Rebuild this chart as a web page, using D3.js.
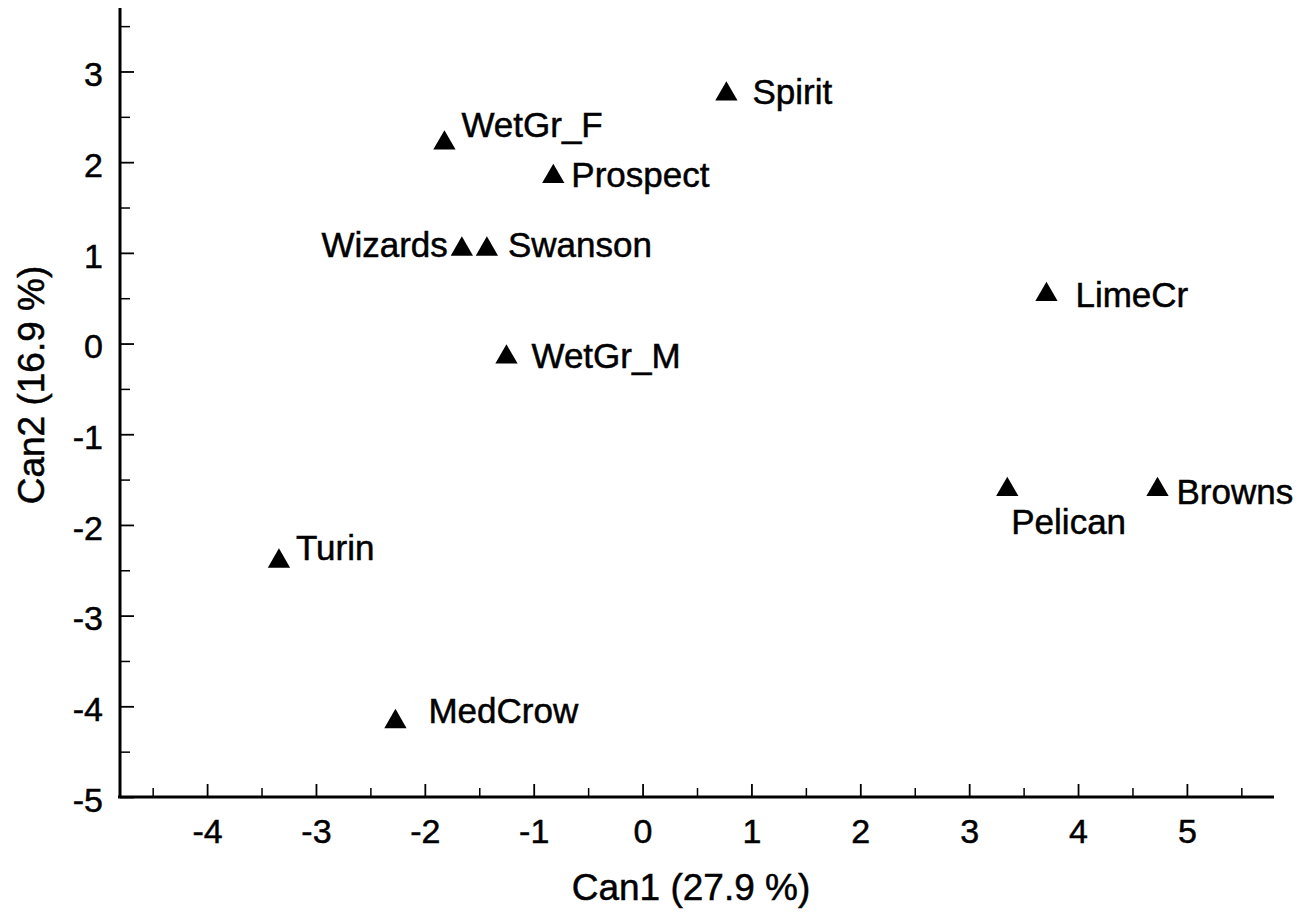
<!DOCTYPE html>
<html>
<head>
<meta charset="utf-8">
<script src="https://cdn.jsdelivr.net/npm/d3@7"></script>
<style>
  body { margin: 0; background: #fff; }
  svg { display: block; font-family: "Liberation Sans", Arial, sans-serif; }
  svg text { stroke: #000; stroke-width: 0.5px; }
</style>
</head>
<body>
<svg id="chart" width="1308" height="918"></svg>
<script>
// sites and their canonical scores
var sites = ["Spirit", "WetGr_F", "Prospect", "Wizards", "Swanson", "LimeCr",
             "WetGr_M", "Pelican", "Browns", "Turin", "MedCrow"];
var can1 = [0.77, -1.82, -0.82, -1.66, -1.43, 3.71, -1.25, 3.35, 4.73, -3.34, -2.27];
var can2 = [2.75, 2.21, 1.84, 1.04, 1.04, 0.54, -0.15, -1.61, -1.61, -2.40, -4.17];

var xTicks = [-4, -3, -2, -1, 0, 1, 2, 3, 4, 5];
var yTicks = [-5, -4, -3, -2, -1, 0, 1, 2, 3];

// where each label sits next to its triangle (dx, dy, anchor)
var labelPlace = [
  [26, 9.5, "start"], [17, -6.5, "start"], [18, 10.5, "start"], [-14, 7.5, "end"],
  [21, 7.5, "start"], [29, 12.5, "start"], [25, 10.5, "start"], [4, 44.5, "start"],
  [19, 14.5, "start"], [17, -1.5, "start"], [33, 1.5, "start"]
];

var svg = d3.select("#chart");

var x = d3.scaleLinear().domain([-4.8, 5.8]).range([120, 1274]);
var y = d3.scaleLinear().domain([-5, 3.7]).range([797, 8]);

var halves = function (a, b) {
  var out = [];
  for (var v = a; v <= b; v += 1) out.push(v + 0.5);
  return out;
};
var plain = function (d) { return String(d); }; // hyphen minus, like the original

// minor ticks
svg.append("g")
  .attr("transform", "translate(0,797)")
  .call(d3.axisBottom(x).tickValues(halves(-5, 5)).tickSize(-9).tickFormat(""))
  .call(function (g) { g.select(".domain").remove(); })
  .selectAll("line").attr("stroke-width", 1.5);

svg.append("g")
  .attr("transform", "translate(120,0)")
  .call(d3.axisLeft(y).tickValues(halves(-5, 3)).tickSize(-10).tickFormat(""))
  .call(function (g) { g.select(".domain").remove(); })
  .selectAll("line").attr("stroke-width", 1.5);

// major ticks + labels
var xAxis = svg.append("g")
  .attr("transform", "translate(0,797)")
  .call(d3.axisBottom(x).tickValues(xTicks).tickSize(-13).tickPadding(22).tickFormat(plain));
xAxis.select(".domain").remove();
xAxis.selectAll("line").attr("stroke-width", 1.8);
xAxis.selectAll("text").attr("font-size", 34).attr("font-family", "Liberation Sans, Arial, sans-serif").attr("fill", "#000");

var yAxis = svg.append("g")
  .attr("transform", "translate(120,0)")
  .call(d3.axisLeft(y).tickValues(yTicks).tickSize(-14).tickPadding(17).tickFormat(plain));
yAxis.select(".domain").remove();
yAxis.selectAll("line").attr("stroke-width", 1.8);
yAxis.selectAll("text").attr("font-size", 34).attr("dy", "0.42em")
  .attr("font-family", "Liberation Sans, Arial, sans-serif").attr("fill", "#000");

// axis lines
svg.append("line").attr("x1", 118).attr("x2", 1274).attr("y1", 797).attr("y2", 797)
  .attr("stroke", "#000").attr("stroke-width", 3);
svg.append("line").attr("x1", 120).attr("x2", 120).attr("y1", 8).attr("y2", 798)
  .attr("stroke", "#000").attr("stroke-width", 3);

// axis titles
svg.append("text")
  .attr("x", 691).attr("y", 900)
  .attr("text-anchor", "middle")
  .attr("font-size", 37)
  .text("Can1 (27.9 %)");

svg.append("text")
  .attr("transform", "translate(44,385) rotate(-90)")
  .attr("text-anchor", "middle")
  .attr("font-size", 37)
  .text("Can2 (16.9 %)");

// points
var tri = d3.symbol().type(d3.symbolTriangle).size(215);

var pts = svg.append("g").selectAll("g")
  .data(sites)
  .enter()
  .append("g")
  .attr("transform", function (d, i) { return "translate(" + x(can1[i]) + "," + y(can2[i]) + ")"; });

pts.append("path")
  .attr("d", tri)
  .attr("fill", "#000");

pts.append("text")
  .attr("x", function (d, i) { return labelPlace[i][0]; })
  .attr("y", function (d, i) { return labelPlace[i][1]; })
  .attr("text-anchor", function (d, i) { return labelPlace[i][2]; })
  .attr("font-size", 35)
  .text(function (d) { return d; });
</script>
</body>
</html>
